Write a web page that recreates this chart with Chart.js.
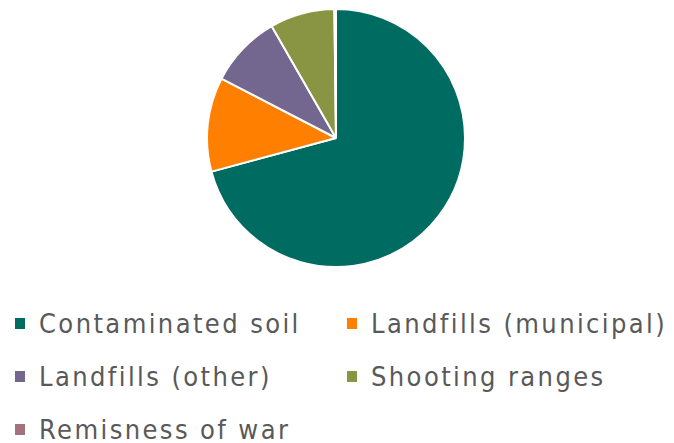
<!DOCTYPE html>
<html>
<head>
<meta charset="utf-8">
<script src="https://cdn.jsdelivr.net/npm/chart.js@4"></script>
<style>
  html, body { margin: 0; padding: 0; background: #fff; }
  body { width: 674px; height: 443px; position: relative; overflow: hidden; }
  #pie-box { position: absolute; left: 206px; top: 8px; width: 260px; height: 260px; }
  #legend {
    position: absolute; left: 15px; top: 297px;
    display: grid; grid-template-columns: 332px auto;
    font-family: "DejaVu Sans Condensed", "DejaVu Sans", sans-serif;
    font-size: 27px; letter-spacing: 2.4px; color: #595959; line-height: 53px;
  }
  .item { display: flex; align-items: center; white-space: nowrap; }
  .swatch { width: 10px; height: 11px; margin-right: 14px; display: inline-block; }
</style>
</head>
<body>
<div id="pie-box"><canvas id="pie"></canvas></div>
<div id="legend"></div>
<script>
// données (parts en %)
const categories = ['Contaminated soil', 'Landfills (municipal)', 'Landfills (other)', 'Shooting ranges', 'Remisness of war'];
const shares = [70.8, 11.8, 9.1, 8.1, 0.2];
const colors = ['#006B60', '#FF7F00', '#73668F', '#8A9543', '#A6717F'];

document.addEventListener('DOMContentLoaded', () => {
    const ctx = document.getElementById('pie');
    new Chart(ctx, {
        type: 'pie',
        data: {
            labels: categories,
            datasets: [{
                data: shares,
                backgroundColor: colors,
                borderColor: '#ffffff',
                borderWidth: 2
            }]
        },
        options: {
            responsive: true,
            maintainAspectRatio: false,
            animation: false,
            layout: { padding: 0 },
            plugins: {
                legend: { display: false },
                tooltip: { enabled: false }
            }
        }
    });

    // légende en grille, deux colonnes
    const legend = document.getElementById('legend');
    categories.forEach((name, i) => {
        const item = document.createElement('div');
        item.className = 'item';
        const sw = document.createElement('span');
        sw.className = 'swatch';
        sw.style.background = colors[i];
        item.appendChild(sw);
        item.appendChild(document.createTextNode(name));
        legend.appendChild(item);
    });
});
</script>
</body>
</html>
